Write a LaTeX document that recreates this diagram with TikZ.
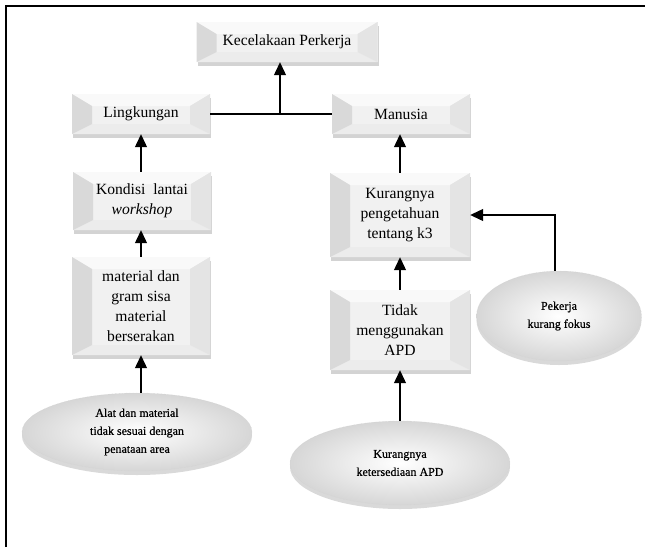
\documentclass[tikz,border=0pt]{standalone}
\usepackage{fontspec}
\setmainfont{Liberation Serif}
\newfontfamily\ovalfont[FakeBold=0.6]{Liberation Serif}
\usetikzlibrary{shapes.geometric,arrows.meta,shadows}
\tikzset{
  bevbox/.style={draw=none, fill=gray!11, inner sep=2pt, align=center,
    font=\fontsize{15.6}{20}\selectfont,
    drop shadow={shadow xshift=1pt, shadow yshift=-4pt, opacity=0.35, fill=gray},
    path picture={
      \fill[gray!5] (path picture bounding box.north west) -- ([shift={(20pt,-12pt)}]path picture bounding box.north west) -- ([shift={(-20pt,-12pt)}]path picture bounding box.north east) -- (path picture bounding box.north east) -- cycle;
      \fill[gray!15] (path picture bounding box.south west) -- ([shift={(20pt,10pt)}]path picture bounding box.south west) -- ([shift={(-20pt,10pt)}]path picture bounding box.south east) -- (path picture bounding box.south east) -- cycle;
      \fill[gray!30] (path picture bounding box.north west) -- ([shift={(20pt,-12pt)}]path picture bounding box.north west) -- ([shift={(20pt,10pt)}]path picture bounding box.south west) -- (path picture bounding box.south west) -- cycle;
      \fill[gray!21] (path picture bounding box.north east) -- ([shift={(-20pt,-12pt)}]path picture bounding box.north east) -- ([shift={(-20pt,10pt)}]path picture bounding box.south east) -- (path picture bounding box.south east) -- cycle;
    }},
  oval/.style={ellipse, draw=gray!35, densely dotted, inner color=white, outer color=gray!32,
    align=center, inner sep=0pt, font=\ovalfont\fontsize{12}{18}\selectfont,
    drop shadow={shadow xshift=0pt, shadow yshift=-4pt, opacity=0.3, fill=gray}},
  arr/.style={line width=1.2pt, -{Triangle[width=12pt,length=13pt]}},
  ln/.style={line width=1.2pt}
}
\begin{document}
\begin{tikzpicture}[x=1pt,y=-1pt]
\useasboundingbox (0,0) rectangle (645,547);
\draw[line width=2pt] (6,547) -- (6,6) -- (645,6);

\node[bevbox, minimum width=181pt, minimum height=40pt] (k) at (287,42) {Kecelakaan Perkerja};
\node[bevbox, minimum width=138pt, minimum height=40pt] (ling) at (141,114) {Lingkungan};
\node[bevbox, minimum width=138pt, minimum height=40pt] (man) at (401,114) {Manusia};
\node[bevbox, minimum width=138pt, minimum height=58pt] (kond) at (142,201) {Kondisi\ \ lantai\\\textit{workshop}};
\node[bevbox, minimum width=138pt, minimum height=98pt] (mat) at (141,306) {material dan\\gram sisa\\material\\berserakan};
\node[bevbox, minimum width=140pt, minimum height=84pt] (kur) at (400,215) {Kurangnya\\pengetahuan\\tentang k3};
\node[bevbox, minimum width=140pt, minimum height=80pt] (tid) at (400,330) {Tidak\\menggunakan\\APD};

\node[oval, minimum width=230pt, minimum height=78pt] (alat) at (137,432) {Alat dan material\\tidak sesuai dengan\\penataan area};
\node[oval, minimum width=220pt, minimum height=84pt] (ket) at (400,463) {Kurangnya\\ketersediaan APD};
\node[oval, minimum width=165pt, minimum height=90pt] (pek) at (559,316) {Pekerja\\kurang fokus};

\coordinate (j) at (280,114);
\draw[ln] (ling.east) -- (man.west);
\draw[arr] (j) -- (k.south -| j);
\draw[arr] (kond.north -| ling.south) -- (ling.south);
\draw[arr] (mat.north) -- (kond.south -| mat.north);
\draw[arr] (alat.north -| mat.south) -- (mat.south);
\draw[arr] (kur.north) -- (man.south -| kur.north);
\draw[arr] (tid.north) -- (kur.south);
\draw[arr] (ket.north) -- (tid.south);
\draw[arr] ([xshift=-4pt]pek.north) |- (kur.east);
\end{tikzpicture}
\end{document}
